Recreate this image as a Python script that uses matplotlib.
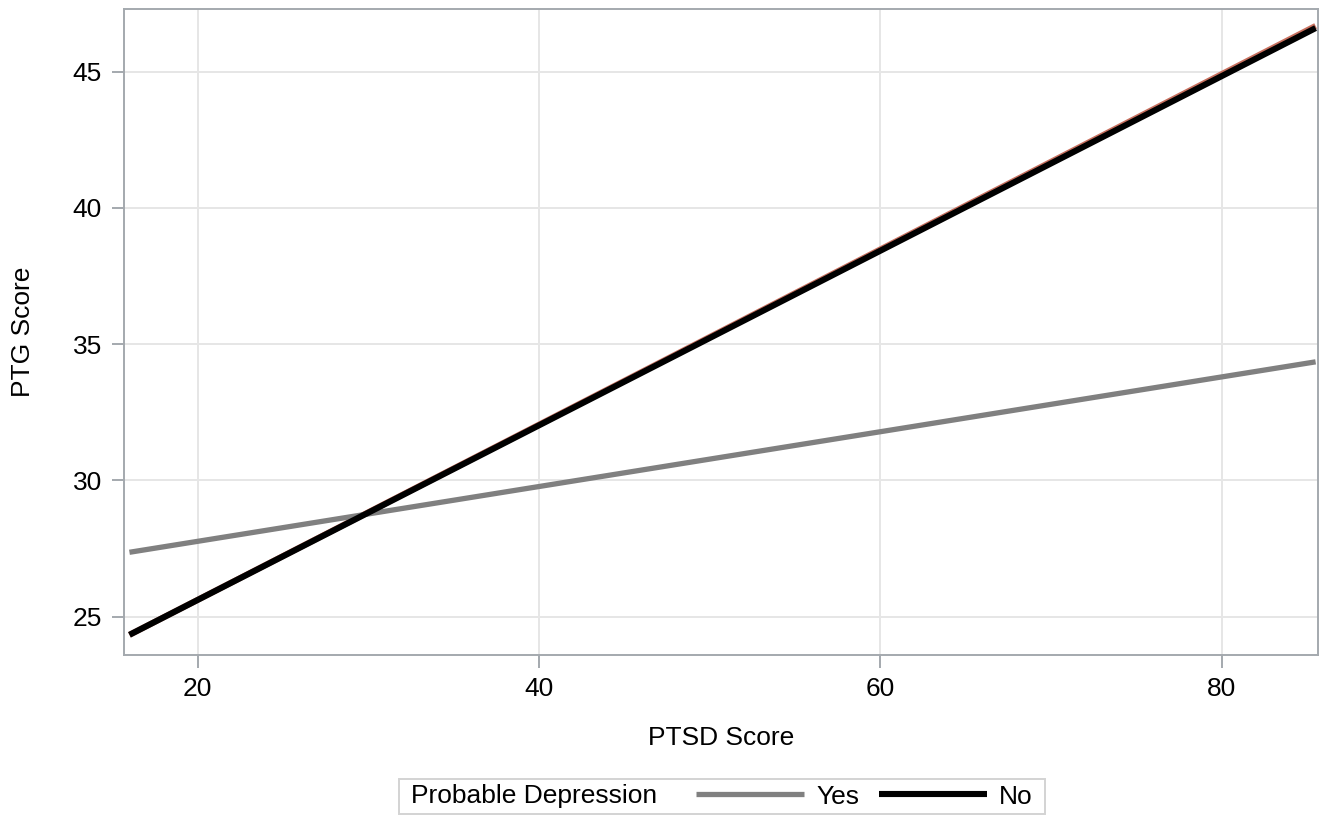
import matplotlib
matplotlib.use("Agg")
import matplotlib.pyplot as plt
from matplotlib.offsetbox import HPacker, DrawingArea

plt.rcParams['font.family'] = ['Liberation Sans', 'DejaVu Sans']

# fitted lines (end points)
ptsd_score = [16.0, 85.5]
ptg_yes = [27.36, 34.35]
ptg_no = [24.33, 46.60]
ptg_red = [24.33, 46.68]  # faint red line peeking out above "No"

x_ticks = [20, 40, 60, 80]
y_ticks = [25, 30, 35, 40, 45]
group_labels = ['Yes', 'No']
legend_title = 'Probable Depression'

frame_col = '#a4a9ae'
grid_col = '#e6e6e6'
fsize = 19

fig = plt.figure(figsize=(13.29, 8.18), dpi=100)
ax = fig.add_axes([124 / 1329, 1 - 655 / 818, 1194 / 1329, 646 / 818])

ax.plot(ptsd_score, ptg_red, color='#c8705f', lw=4.3, solid_capstyle='butt', zorder=2)
yes_line, = ax.plot(ptsd_score, ptg_yes, color='#808080', lw=3.8,
                    solid_capstyle='butt', zorder=3)
no_line, = ax.plot(ptsd_score, ptg_no, color='black', lw=4.4,
                   solid_capstyle='butt', zorder=4)

ax.set_xlim(15.68, 85.64)
ax.set_ylim(23.59, 47.30)
ax.set_xticks(x_ticks)
ax.set_yticks(y_ticks)
ax.grid(True, color=grid_col, lw=1.4)
ax.set_axisbelow(True)
for sp in ax.spines.values():
    sp.set_color(frame_col)
    sp.set_linewidth(1.4)
ax.tick_params(length=9, width=1.4, color=frame_col, labelsize=fsize, pad=7)

ax.set_xlabel('PTSD Score', fontsize=fsize, va='center')
ax.xaxis.set_label_coords(0.5, -0.1285)
ax.set_ylabel('PTG Score', fontsize=fsize, va='center')
ax.yaxis.set_label_coords(-0.0846, 0.5)

leg = fig.legend([yes_line, no_line], group_labels, title=legend_title, ncol=2,
                 loc='center', bbox_to_anchor=(722 / 1329, 1 - 796.5 / 818),
                 fontsize=fsize, title_fontsize=fsize, frameon=True, fancybox=False,
                 edgecolor='#c8c8c8', handlelength=4.1, handletextpad=0.45,
                 columnspacing=0.75, borderpad=0.2)
leg.get_frame().set_linewidth(1.4)

# put the title to the left of the entries, like SAS does
leg._legend_box = HPacker(pad=leg.borderpad * leg._fontsize, sep=0,
                          align='center',
                          children=[DrawingArea(5, 0), leg._legend_title_box,
                                    DrawingArea(28, 0), leg._legend_handle_box,
                                    DrawingArea(5, 0)])
leg._legend_box.set_figure(fig)
leg._set_loc(leg._loc)

fig.savefig('out.png', dpi=100)
